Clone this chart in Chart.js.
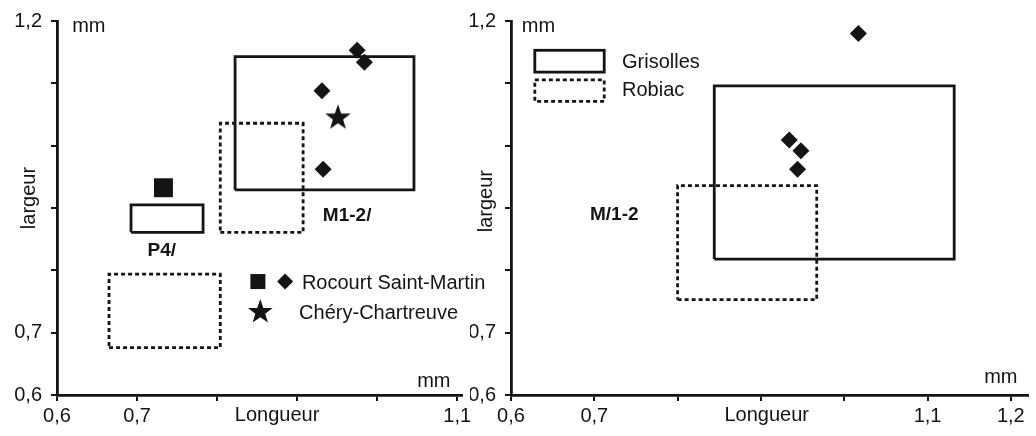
<!DOCTYPE html>
<html>
<head>
<meta charset="utf-8">
<script src="https://cdn.jsdelivr.net/npm/chart.js@4"></script>
<style>
  html, body { margin: 0; padding: 0; background: #fff; }
  #wrap { position: relative; width: 1036px; height: 436px; }
  .panel { position: absolute; top: 0; height: 436px; }
  #left { left: 0; width: 500px; }
  #right { left: 470px; width: 566px; }
</style>
</head>
<body>
<div id="wrap">
  <div class="panel" id="right"><canvas id="chartRight"></canvas></div>
  <div class="panel" id="left"><canvas id="chartLeft"></canvas></div>
</div>
<script>
// ---- values in mm ----
// left panel : P4/ and M1-2/
const leftXTicks  = [0.6, 0.7, 0.8, 0.9, 1.0, 1.1];
const leftXLabels = ['0,6', '0,7', '', '', '', '1,1'];
const leftYTicks  = [0.6, 0.7, 0.8, 0.9, 1.0, 1.1, 1.2];
const leftYLabels = ['0,6', '0,7', '', '', '', '', '1,2'];

// boxes as [xmin, xmax, ymin, ymax]
const leftGrisolles = [
  [0.6925, 0.7825, 0.861, 0.905],   // P4/
  [0.8225, 1.046, 0.929, 1.143]     // M1-2/
];
const leftRobiac = [
  [0.665, 0.804, 0.676, 0.794],     // P4/
  [0.804, 0.9075, 0.861, 1.036]     // M1-2/
];
const leftRocourtP4X = [0.733];
const leftRocourtP4Y = [0.9325];
const leftRocourtMX  = [0.975, 0.984, 0.931, 0.9325];
const leftRocourtMY  = [1.153, 1.134, 1.088, 0.962];
const leftCheryX = [0.951];
const leftCheryY = [1.0455];

// right panel : M/1-2
const rightXTicks  = [0.6, 0.7, 0.8, 0.9, 1.0, 1.1, 1.2];
const rightXLabels = ['0,6', '0,7', '', '', '', '1,1', '1,2'];
const rightYTicks  = [0.6, 0.7, 0.8, 0.9, 1.0, 1.1, 1.2];
const rightYLabels = ['0,6', '0,7', '', '', '', '', '1,2'];

const rightGrisolles = [[0.844, 1.132, 0.818, 1.096]];
const rightRobiac    = [[0.8, 0.967, 0.753, 0.936]];
const rightRocourtX  = [1.017, 0.934, 0.948, 0.944];
const rightRocourtY  = [1.18, 1.009, 0.992, 0.962];

// ---- drawing ----
const INK = '#141414';
const FONT = "'Liberation Sans', Arial, sans-serif";

function pts(xs, ys) { return xs.map((x, i) => ({ x: x, y: ys[i] })); }

function boxSet(b, dashed) {
  return {
    type: 'line',
    data: [
      { x: b[0], y: b[2] }, { x: b[1], y: b[2] }, { x: b[1], y: b[3] },
      { x: b[0], y: b[3] }, { x: b[0], y: b[2] }
    ],
    borderColor: INK,
    borderWidth: 2.8,
    borderDash: dashed ? [4, 3] : [],
    borderJoinStyle: 'miter',
    pointRadius: 0,
    fill: false,
    tension: 0
  };
}

function starPath(ctx, cx, cy, R, r) {
  ctx.beginPath();
  for (let i = 0; i < 10; i++) {
    const a = -Math.PI / 2 + i * Math.PI / 5;
    const rad = i % 2 ? r : R;
    ctx.lineTo(cx + rad * Math.cos(a), cy + rad * Math.sin(a));
  }
  ctx.closePath();
}

const starImg = document.createElement('canvas');
starImg.width = 28; starImg.height = 28;
(function () {
  const c = starImg.getContext('2d');
  c.fillStyle = INK;
  starPath(c, 14, 14.5, 13.5, 5.4);
  c.fill();
})();

function markSet(data, style, radius) {
  return {
    type: 'scatter',
    data: data,
    pointStyle: style,
    pointRadius: radius,
    pointBackgroundColor: INK,
    pointBorderColor: INK,
    pointBorderWidth: 0,
    showLine: false
  };
}

const notesPlugin = {
  id: 'notes',
  afterDraw(chart, args, opts) {
    const ctx = chart.ctx, xs = chart.scales.x, ys = chart.scales.y;
    ctx.save();
    ctx.fillStyle = INK;
    ctx.strokeStyle = INK;
    (opts.items || []).forEach(n => {
      const px = xs.getPixelForValue(n.x), py = ys.getPixelForValue(n.y);
      if (n.kind === 'text') {
        ctx.font = (n.bold ? 'bold ' : '') + n.size + 'px ' + FONT;
        ctx.textAlign = n.align || 'center';
        ctx.textBaseline = 'middle';
        if (n.rotate) {
          ctx.save();
          ctx.translate(px, py);
          ctx.rotate(-Math.PI / 2);
          ctx.fillText(n.text, 0, 0);
          ctx.restore();
        } else {
          ctx.fillText(n.text, px, py);
        }
      } else if (n.kind === 'square') {
        ctx.fillRect(px - 7.5, py - 7.5, 15, 15);
      } else if (n.kind === 'diamond') {
        ctx.beginPath();
        ctx.moveTo(px, py - 8); ctx.lineTo(px + 8, py);
        ctx.lineTo(px, py + 8); ctx.lineTo(px - 8, py);
        ctx.closePath(); ctx.fill();
      } else if (n.kind === 'star') {
        starPath(ctx, px, py, 13, 5.2);
        ctx.fill();
      } else if (n.kind === 'box') {
        const px2 = xs.getPixelForValue(n.x2), py2 = ys.getPixelForValue(n.y2);
        ctx.lineWidth = 2.8;
        ctx.setLineDash(n.dashed ? [4, 3] : []);
        ctx.strokeRect(px, py, px2 - px, py2 - py);
        ctx.setLineDash([]);
      }
    });
    ctx.restore();
  }
};

function axis(min, max, ticks, labels, isX, fitSize) {
  return {
    type: 'linear',
    position: isX ? 'bottom' : 'left',
    min: min,
    max: max,
    afterBuildTicks: s => { s.ticks = ticks.map(v => ({ value: v })); },
    afterFit: s => { if (isX) s.height = fitSize; else s.width = fitSize; },
    border: { display: true, color: INK, width: 2.8 },
    grid: {
      display: true, drawOnChartArea: false, drawTicks: true,
      tickLength: 6, color: INK, lineWidth: 2
    },
    ticks: {
      autoSkip: false,
      maxRotation: 0,
      padding: isX ? 3 : 9,
      color: INK,
      font: { family: FONT, size: 20 },
      callback: (v, i) => labels[i]
    }
  };
}

function makeChart(id, datasets, xr, yr, yWidth, padRight, notes) {
  return new Chart(document.getElementById(id), {
    data: { datasets: datasets },
    options: {
      responsive: true,
      maintainAspectRatio: false,
      animation: false,
      layout: { padding: { top: 15, right: padRight, left: 0, bottom: 0 } },
      scales: {
        x: axis(xr[0], xr[1], xr[2], xr[3], true, 41),
        y: axis(yr[0], yr[1], yr[2], yr[3], false, yWidth)
      },
      plugins: {
        legend: { display: false },
        tooltip: { enabled: false },
        notes: { items: notes }
      }
    },
    plugins: [notesPlugin]
  });
}

// left chart (canvas a bit wider than its panel so the legend text can run past it)
makeChart('chartLeft',
  [].concat(
    leftGrisolles.map(b => boxSet(b, false)),
    leftRobiac.map(b => boxSet(b, true)),
    [markSet(pts(leftRocourtP4X, leftRocourtP4Y), 'rect', 13.4),
     markSet(pts(leftRocourtMX, leftRocourtMY), 'rectRot', 8.5),
     markSet(pts(leftCheryX, leftCheryY), starImg, 14)]
  ),
  [0.6, 1.106, leftXTicks, leftXLabels],
  [0.6, 1.2, leftYTicks, leftYLabels],
  57, 38,
  [
    { kind: 'text', text: 'mm', x: 0.619, y: 1.191, size: 20, align: 'left' },
    { kind: 'text', text: 'mm', x: 1.05, y: 0.622, size: 20, align: 'left' },
    { kind: 'text', text: 'largeur', x: 0.566, y: 0.916, size: 20, rotate: true },
    { kind: 'text', text: 'Longueur', x: 0.875, y: 0.567, size: 20 },
    { kind: 'text', text: 'P4/', x: 0.731, y: 0.831, size: 19, bold: true },
    { kind: 'text', text: 'M1-2/', x: 0.9625, y: 0.8875, size: 19, bold: true },
    { kind: 'square', x: 0.851, y: 0.782 },
    { kind: 'diamond', x: 0.885, y: 0.782 },
    { kind: 'text', text: 'Rocourt Saint-Martin', x: 0.906, y: 0.7785, size: 20, align: 'left' },
    { kind: 'star', x: 0.854, y: 0.733 },
    { kind: 'text', text: 'Chéry-Chartreuve', x: 0.9025, y: 0.731, size: 20, align: 'left' }
  ]
);

// right chart
makeChart('chartRight',
  [].concat(
    rightGrisolles.map(b => boxSet(b, false)),
    rightRobiac.map(b => boxSet(b, true)),
    [markSet(pts(rightRocourtX, rightRocourtY), 'rectRot', 8.5)]
  ),
  [0.6, 1.22, rightXTicks, rightXLabels],
  [0.6, 1.2, rightYTicks, rightYLabels],
  41, 4,
  [
    { kind: 'text', text: 'mm', x: 0.613, y: 1.191, size: 20, align: 'left' },
    { kind: 'text', text: 'mm', x: 1.168, y: 0.628, size: 20, align: 'left' },
    { kind: 'text', text: 'largeur', x: 0.571, y: 0.911, size: 20, rotate: true },
    { kind: 'text', text: 'Longueur', x: 0.907, y: 0.567, size: 20 },
    { kind: 'text', text: 'M/1-2', x: 0.724, y: 0.889, size: 19, bold: true },
    { kind: 'box', x: 0.6286, x2: 0.7119, y: 1.153, y2: 1.118 },
    { kind: 'box', x: 0.6286, x2: 0.7119, y: 1.1055, y2: 1.071, dashed: true },
    { kind: 'text', text: 'Grisolles', x: 0.7333, y: 1.134, size: 20, align: 'left' },
    { kind: 'text', text: 'Robiac', x: 0.7333, y: 1.088, size: 20, align: 'left' }
  ]
);
</script>
</body>
</html>
